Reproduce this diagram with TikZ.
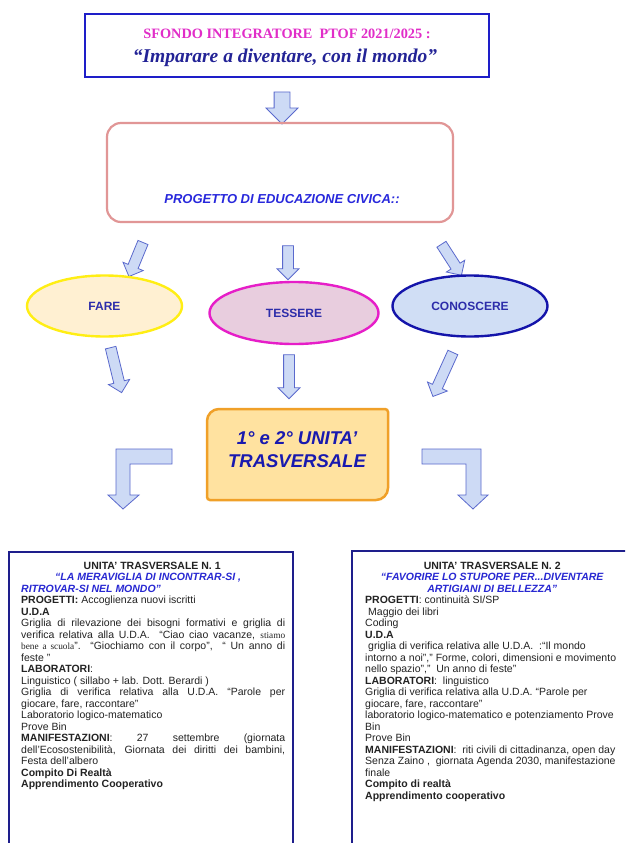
\documentclass[tikz,border=0pt]{standalone}
\usepackage{fontspec}
\setmainfont{Liberation Sans}
\newfontfamily\serifface{Liberation Serif}
\usetikzlibrary{shapes.geometric,shapes.arrows}
\definecolor{hdrblue}{RGB}{30,30,200}
\definecolor{magentat}{RGB}{225,45,200}
\definecolor{dblue}{RGB}{35,35,150}
\definecolor{pinkline}{RGB}{225,150,150}
\definecolor{projtext}{RGB}{40,40,220}
\definecolor{arrowfill}{RGB}{205,218,245}
\definecolor{arrowline}{RGB}{90,105,205}
\definecolor{farefill}{RGB}{255,240,210}
\definecolor{fareline}{RGB}{255,238,20}
\definecolor{tessfill}{RGB}{232,205,222}
\definecolor{tessline}{RGB}{230,30,200}
\definecolor{conofill}{RGB}{208,222,245}
\definecolor{conoline}{RGB}{20,20,170}
\definecolor{elltext}{RGB}{45,45,170}
\definecolor{orfill}{RGB}{255,226,160}
\definecolor{orline}{RGB}{240,160,40}
\definecolor{ortext}{RGB}{25,25,175}
\definecolor{uboxblue}{RGB}{30,30,140}
\definecolor{bodytext}{RGB}{35,35,35}
\definecolor{itblue}{RGB}{40,40,210}
\newcommand\smallserif{\serifface\fontsize{9.3}{11.5}\selectfont}
\newcommand\natspace{\spaceskip=0pt\xspaceskip=0pt\relax}
\begin{document}
\begin{tikzpicture}[x=1pt,y=-1pt,
  hdrbox/.style={draw=hdrblue, line width=2pt, minimum width=404pt, minimum height=62pt, inner sep=0pt},
  projbox/.style={draw=pinkline, line width=2.2pt, rounded corners=14pt, minimum width=346pt, minimum height=99pt, inner sep=0pt},
  ell/.style={ellipse, line width=2.4pt, inner sep=0pt, font=\fontsize{12}{14}\selectfont\bfseries, text=elltext},
  barrow/.style={shape=single arrow, draw=arrowline, fill=arrowfill, line width=0.8pt, inner xsep=0pt, inner ysep=5pt,
    single arrow head indent=0pt, single arrow head extend=5.5pt, minimum width=21pt, minimum height=#1},
  bigarrow/.style={barrow=#1, inner ysep=7.5pt, single arrow head extend=8pt, minimum width=31pt},
  bent/.style={draw=arrowline, fill=arrowfill, line width=0.8pt, line join=miter},
  obox/.style={draw=orline, fill=orfill, line width=2.5pt},
  ubox/.style={draw=uboxblue, line width=1.8pt, fill=white},
  utext/.style={anchor=north west, inner sep=0pt, align=left, text=bodytext, font=\fontsize{10.5}{11.5}\selectfont}
]
\useasboundingbox (0,0) rectangle (625,843);
\clip (0,0) rectangle (625,843);
\fill[white] (0,0) rectangle (625,843);

% header
\node[hdrbox] (hdr) at (286.5,45.5) {};
\node[anchor=base, inner sep=0pt, text=magentat, font=\serifface\bfseries\fontsize{14.3}{16}\selectfont] (hdr1) at (287,38.5) {SFONDO INTEGRATORE\ \ PTOF 2021/2025 :};
\node[anchor=base, inner sep=0pt, text=dblue, font=\serifface\bfseries\itshape\fontsize{19.5}{22}\selectfont] (hdr2) at (285,62.5) {“Imparare a diventare, con il mondo”};

\node[bigarrow=32pt, rotate=-90] (a0) at (282,104) {};

% project box
\node[projbox] (proj) at (280,172.5) {};
\node[anchor=base, inner sep=0pt, text=projtext, font=\bfseries\itshape\fontsize{13}{15}\selectfont] (projt) at (282,203.5) {PROGETTO DI EDUCAZIONE CIVICA::};

% arrows to ellipses
\node[barrow=36.8pt, rotate=-112.4] (a1) at (137,257) {};
\node[barrow=34pt, rotate=-90] (a2) at (288,260) {};
\node[barrow=36.9pt, rotate=-57.2] (a3) at (450,257.5) {};

% ellipses
\node[ell, draw=fareline, fill=farefill, minimum width=155pt, minimum height=61pt] (fare) at (104.5,306) {FARE};
\node[ell, draw=tessline, fill=tessfill, minimum width=169pt, minimum height=62pt] (tess) at (294,313) {TESSERE};
\node[ell, draw=conoline, fill=conofill, minimum width=155pt, minimum height=61pt] (cono) at (470,306) {CONOSCERE};

% arrows from ellipses
\node[barrow=46.3pt, rotate=-76.3] (b1) at (115.5,367.5) {};
\node[barrow=44pt, rotate=-90] (b2) at (289,374) {};
\node[barrow=48.3pt, rotate=-114.4] (b3) at (444,372) {};

% orange box
\draw[obox] (207,421) .. controls (207,414.4) and (212.4,409) .. (219,409) -- (385,409)
  .. controls (386.7,409) and (388,410.3) .. (388,412) -- (388,488)
  .. controls (388,494.6) and (382.6,500) .. (376,500) -- (210,500)
  .. controls (208.3,500) and (207,498.7) .. (207,497) -- cycle;
\node[align=center, inner sep=0pt, text=ortext, font=\bfseries\itshape\fontsize{18.5}{23}\selectfont] (unita) at (297,450) {1° e 2° UNITA’\\TRASVERSALE};

% bent arrows
\draw[bent] (172,449) -- (116,449) -- (116,495) -- (108,495) -- (123,509) -- (139,495) -- (130,495) -- (130,464) -- (172,464) -- cycle;
\draw[bent] (422,449) -- (481,449) -- (481,495) -- (488,495) -- (473,509) -- (458,495) -- (466,495) -- (466,464) -- (422,464) -- cycle;

% bottom boxes
\draw[ubox] (9,552) rectangle (293,870);
\draw[ubox] (352,551) rectangle (640,870);

\node[utext, text width=264pt] (u1) at (21,561.5) {\natspace
\makebox[262pt]{\bfseries UNITA’ TRASVERSALE N. 1}\\
\hspace*{34pt}{\bfseries\itshape\color{itblue}“LA MERAVIGLIA DI INCONTRAR-SI ,}\\
{\bfseries\itshape\color{itblue}RITROVAR-SI NEL MONDO”}\\
\textbf{PROGETTI:} Accoglienza nuovi iscritti\\
\textbf{U.D.A}\\
\makebox[264pt][s]{Griglia di rilevazione dei bisogni formativi e griglia di}\\
\makebox[264pt][s]{verifica relativa alla U.D.A.\ \ “Ciao ciao vacanze, {\smallserif stiamo}}\\
\makebox[264pt][s]{{\smallserif bene a scuola}”. “Giochiamo con il corpo”,\ \ “ Un anno di}\\
feste ”\\
\textbf{LABORATORI}:\\
Linguistico ( sillabo + lab. Dott. Berardi )\\
\makebox[264pt][s]{Griglia di verifica relativa alla U.D.A. “Parole per}\\
giocare, fare, raccontare”\\
Laboratorio logico-matematico\\
Prove Bin\\
\makebox[264pt][s]{\textbf{MANIFESTAZIONI}: 27 settembre (giornata}\\
\makebox[264pt][s]{dell’Ecosostenibilità, Giornata dei diritti dei bambini,}\\
Festa dell’albero\\
\textbf{Compito Di Realtà}\\
\textbf{Apprendimento Cooperativo}};

\node[utext, text width=300pt] (u2) at (365,561.5) {\natspace
\makebox[254pt]{\bfseries UNITA’ TRASVERSALE N. 2}\\
\makebox[254pt]{\bfseries\itshape\color{itblue}“FAVORIRE LO STUPORE PER...DIVENTARE}\\
\makebox[254pt]{\bfseries\itshape\color{itblue}ARTIGIANI DI BELLEZZA”}\\
\textbf{PROGETTI}: continuità SI/SP\\
\hspace*{3pt}Maggio dei libri\\
Coding\\
\textbf{U.D.A}\\
\hspace*{3pt}griglia di verifica relativa alle U.D.A.\ \ :“Il mondo\\
intorno a noi”,” Forme, colori, dimensioni e movimento\\
nello spazio”,”\ \ Un anno di feste”\\
\textbf{LABORATORI}:\ \ linguistico\\
Griglia di verifica relativa alla U.D.A. “Parole per\\
giocare, fare, raccontare”\\
laboratorio logico-matematico e potenziamento Prove\\
Bin\\
Prove Bin\\
\textbf{MANIFESTAZIONI}:\ \ riti civili di cittadinanza, open day\\
Senza Zaino ,\ \ giornata Agenda 2030, manifestazione\\
finale\\
\textbf{Compito di realtà}\\
\textbf{Apprendimento cooperativo}};
\end{tikzpicture}
\end{document}
